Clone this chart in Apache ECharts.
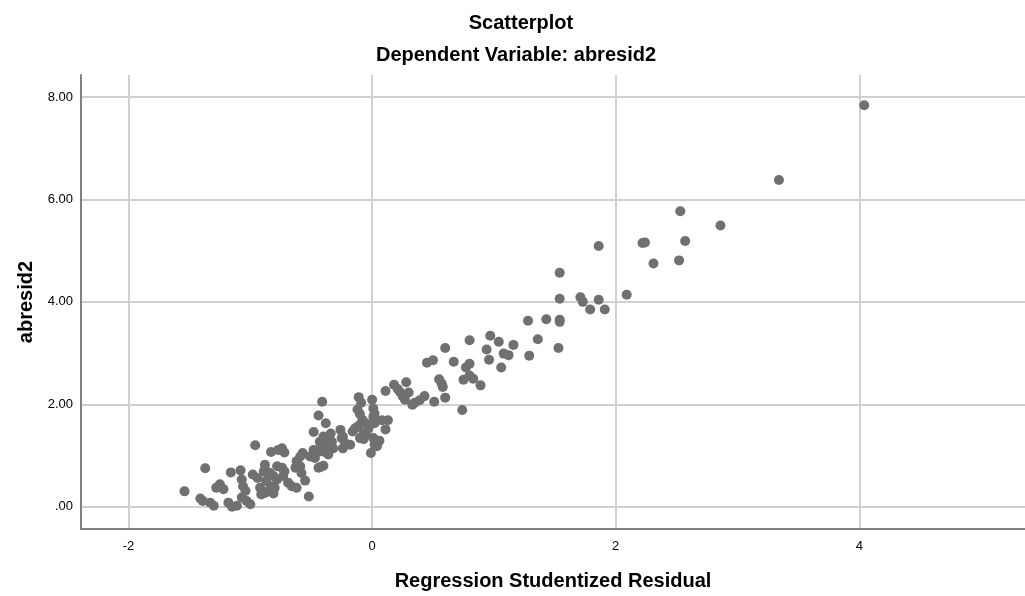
<!DOCTYPE html>
<html>
<head>
<meta charset="utf-8">
<script src="https://cdn.jsdelivr.net/npm/echarts@6/dist/echarts.min.js"></script>
<style>
html,body{margin:0;padding:0;background:#fff;}
#chart{width:1025px;height:596px;}
</style>
</head>
<body>
<div id="chart"></div>
<script>
// Regression Studentized Residual (x) and abresid2 (y)
const residual = [
 4.04, 3.34, 2.86, 2.53, 2.22, 2.24, 2.57, 1.86, 2.31, 2.52,
 1.54, 2.09, 1.54, 1.71, 1.73, 1.86, 1.79, 1.91, 1.28, 1.43,
 1.54, 1.54, 1.36, 1.53, 0.97, 1.04, 1.16, 0.94, 1.08, 1.12,
 0.96, 1.29, 1.06, 0.80, 0.60, 0.45, 0.50, 0.67, 0.77, 0.80,
 0.75, 0.80, 0.83, 0.89, 0.55, 0.57, 0.58, 0.60, 0.74, 0.51,
 0.43, 0.39, 0.35, 0.33, 0.28, 0.30, 0.25, 0.27, 0.18, 0.21,
 0.23, 0.11, 0.00, 0.01, 0.02, 0.01, 0.02, 0.08, 0.13, 0.11,
 0.06, 0.02, -0.01, -0.11, -0.09, -0.12, -0.10, -0.08, -0.11, -0.14,
 -0.16, -0.07, -0.03, -0.05, -0.41, -0.44, -0.38, -0.48, -0.26, -0.34,
 -0.40, -0.43, -0.35, -0.39, -0.24, -0.22, -0.18, -0.48, -0.57, -0.43,
 -0.37, -0.96, -1.37, -1.54, -0.83, -0.74, -0.72, -0.52, -0.55, -0.42,
 -0.40, -0.77, -1.16, -1.08, -1.25, -1.28, -1.22, -1.41, -1.39, -1.33,
 -1.30, -1.18, -1.15, -1.11, -1.07, -1.06, -1.04, -1.07, -1.00, -1.03,
 -0.98, -0.94, -0.88, -0.84, -0.92, -0.88, -0.84, -0.78, -0.78, -0.80,
 -0.07, -0.10, -0.25, -0.24, -0.39, -0.42, -0.33, -0.32, -0.40, -0.36,
 -0.51, -0.47, -0.59, -0.62, -0.63, -0.59, -0.58, -0.44, -0.74, -0.72,
 -0.73, -0.69, -0.66, -0.62, -0.88, -0.89, -0.84, -0.81, -0.87, -0.83,
 -0.85, -0.81, -0.91, -0.05, 0.01, 0.04
];
const abresid2 = [
 7.84, 6.38, 5.49, 5.77, 5.15, 5.16, 5.19, 5.09, 4.75, 4.81,
 4.57, 4.14, 4.06, 4.09, 4.00, 4.04, 3.85, 3.85, 3.63, 3.66,
 3.65, 3.61, 3.27, 3.10, 3.34, 3.22, 3.16, 3.07, 2.99, 2.96,
 2.87, 2.95, 2.72, 3.25, 3.10, 2.81, 2.86, 2.83, 2.72, 2.79,
 2.48, 2.56, 2.50, 2.37, 2.49, 2.41, 2.34, 2.13, 1.89, 2.05,
 2.16, 2.08, 2.03, 1.99, 2.43, 2.23, 2.16, 2.09, 2.38, 2.30,
 2.24, 2.26, 2.09, 1.92, 1.82, 1.76, 1.63, 1.69, 1.69, 1.51,
 1.29, 1.21, 1.05, 2.14, 2.03, 1.90, 1.81, 1.70, 1.58, 1.53,
 1.47, 1.32, 1.53, 1.63, 2.05, 1.78, 1.63, 1.46, 1.50, 1.43,
 1.37, 1.27, 1.27, 1.21, 1.37, 1.24, 1.21, 1.11, 1.05, 1.08,
 1.05, 1.20, 0.75, 0.30, 1.07, 1.14, 1.06, 0.20, 0.51, 0.78,
 0.80, 1.11, 0.67, 0.71, 0.44, 0.37, 0.34, 0.16, 0.11, 0.08,
 0.02, 0.08, 0.00, 0.02, 0.53, 0.40, 0.31, 0.18, 0.05, 0.11,
 0.63, 0.56, 0.73, 0.63, 0.37, 0.27, 0.31, 0.79, 0.53, 0.37,
 1.43, 1.34, 1.34, 1.14, 1.34, 1.24, 1.27, 1.14, 1.08, 1.02,
 0.98, 0.95, 0.98, 0.89, 0.76, 0.79, 0.66, 0.76, 0.76, 0.69,
 0.60, 0.47, 0.40, 0.37, 0.82, 0.69, 0.66, 0.60, 0.50, 0.40,
 0.31, 0.26, 0.24, 1.40, 1.34, 1.18
];
const xTicks = [-2, 0, 2, 4];
const yTicks = [0, 2, 4, 6, 8];
const titleText = 'Scatterplot';
const subtitleText = 'Dependent Variable: abresid2';
const xName = 'Regression Studentized Residual';
const yName = 'abresid2';

const points = residual.map((x, i) => [x, abresid2[i]]);
const FONT = 'Liberation Sans, Arial, sans-serif';

const chart = echarts.init(document.getElementById('chart'), null, {renderer: 'canvas'});
chart.setOption({
  animation: false,
  backgroundColor: '#ffffff',
  title: [
    {text: titleText, left: 516, textAlign: 'center', top: 8,
     textStyle: {fontFamily: FONT, fontSize: 20, fontWeight: 'bold', color: '#000'}},
    {text: subtitleText, left: 511, textAlign: 'center', top: 40,
     textStyle: {fontFamily: FONT, fontSize: 20, fontWeight: 'bold', color: '#000'}}
  ],
  grid: {left: 81, right: 0, top: 75, bottom: 63, containLabel: false},
  xAxis: {
    type: 'value', min: -2.39, max: 5.36,
    name: xName, nameLocation: 'middle', nameGap: 42,
    nameTextStyle: {fontFamily: FONT, fontSize: 20, fontWeight: 'bold', color: '#000'},
    axisLine: {show: true, onZero: false, lineStyle: {color: '#808080', width: 2}},
    axisTick: {show: false, customValues: xTicks},
    axisLabel: {customValues: xTicks, fontFamily: FONT, fontSize: 13, color: '#000', margin: 11,
      formatter: v => String(v)},
    splitLine: {show: true, lineStyle: {color: '#d0d0d0', width: 2}}
  },
  yAxis: {
    type: 'value', min: -0.435, max: 8.43,
    name: yName, nameLocation: 'middle', nameGap: 44, nameRotate: 90,
    nameTextStyle: {fontFamily: FONT, fontSize: 20, fontWeight: 'bold', color: '#000'},
    axisLine: {show: true, onZero: false, lineStyle: {color: '#808080', width: 2}},
    axisTick: {show: false, customValues: yTicks},
    axisLabel: {customValues: yTicks, fontFamily: FONT, fontSize: 13, color: '#000', margin: 8,
      formatter: v => v.toFixed(2).replace(/^0/, '')},
    splitLine: {show: true, lineStyle: {color: '#d0d0d0', width: 2}}
  },
  series: [{
    type: 'scatter',
    data: points,
    symbol: 'circle',
    symbolSize: 10,
    itemStyle: {color: '#707070', opacity: 1},
    emphasis: {disabled: true}
  }]
});
</script>
</body>
</html>
